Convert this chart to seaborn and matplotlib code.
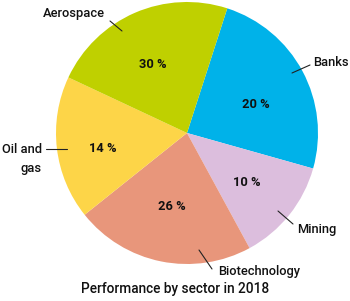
import matplotlib
matplotlib.use("Agg")
import matplotlib.pyplot as plt
import seaborn as sns

# Data
sectors = ["Banks", "Mining", "Biotechnology", "Oil and\ngas", "Aerospace"]
shares = [24.4, 12.7, 22.2, 17.7, 23.0]          # slice sizes as drawn
pct_labels = ["20 %", "10 %", "26 %", "14 %", "30 %"]  # printed percentages
colors = ["#00B2E9", "#DCBEDD", "#E8967B", "#FDD548", "#BFD000"]
title = "Performance by sector in 2018"

sns.set_theme(style="white")
plt.rcParams["font.family"] = ["Roboto", "DejaVu Sans"]

W, H = 350, 301
fig = plt.figure(figsize=(W / 100, H / 100), dpi=100)
ax = fig.add_axes([0, 0, 1, 1])

cx, cy, r = 187, H - 133, 131
wedges, _ = ax.pie(shares, colors=colors, startangle=72.1, counterclock=False,
                   center=(cx, cy), radius=r,
                   wedgeprops=dict(linewidth=0))
ax.set_xlim(0, W)
ax.set_ylim(0, H)
ax.set_aspect("equal")
ax.axis("off")

def py(y):
    return H - y

# percentage labels (pixel positions)
pct_pos = [(256, 104), (247, 182), (172, 207), (103, 148), (153, 64)]
for (x, y), t in zip(pct_pos, pct_labels):
    ax.text(x, py(y), t, ha="center", va="center", fontsize=9.3,
            fontweight="bold", color="#111111")

# leader lines and category labels
lines = [((292, 73), (310, 65)), ((278, 211), (293, 224)), ((199, 250), (212, 269)),
         ((46, 149), (67, 149)), ((110, 21), (122, 31))]
for (x0, y0), (x1, y1) in lines:
    ax.plot([x0, x1], [py(y0), py(y1)], color="#222222", lw=0.8)

label_pos = [(313, 62, "left", "center"), (297, 230, "left", "center"),
             (218, 272, "left", "center"), (42, 159, "right", "center"),
             (74, 13, "center", "center")]
for (x, y, ha, va), t in zip(label_pos, sectors):
    ax.text(x, py(y), t, ha=ha, va=va, fontsize=9.3, fontweight="medium",
            color="#111111", multialignment="right", linespacing=1.65)

ax.text(175, py(289), title, ha="center", va="center", fontsize=9.8,
        fontweight="medium", color="#111111")

fig.savefig("out.png", dpi=100)
